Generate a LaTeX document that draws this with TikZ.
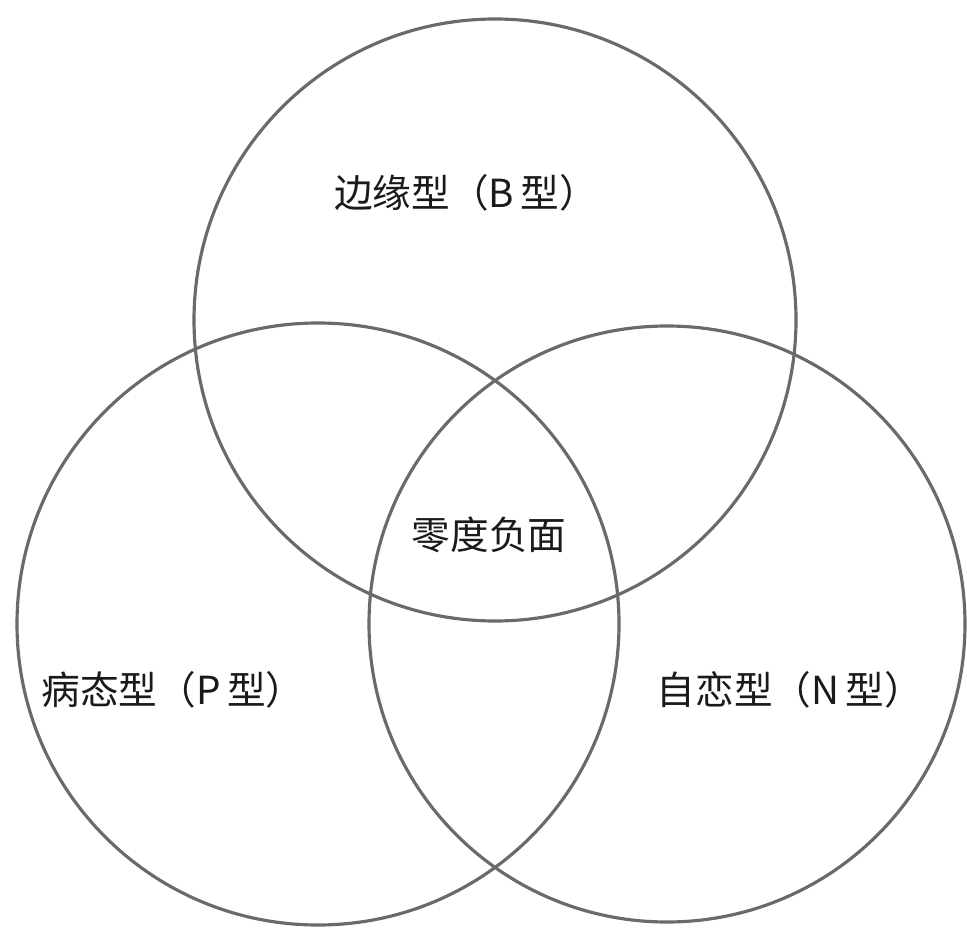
\documentclass[tikz,border=0pt]{standalone}
\usepackage{fontspec}
\newfontfamily\cjk{Noto Sans CJK SC}
\definecolor{ringgray}{HTML}{6A6A6A}
\definecolor{txtgray}{HTML}{1A1A1A}
\begin{document}
\begin{tikzpicture}[x=0.02cm,y=-0.02cm,
  ring/.style={draw=ringgray,line width=1.8pt},
  lbl/.style={inner sep=0pt,text=txtgray,font=\cjk\fontsize{22}{26}\selectfont}]
\useasboundingbox (0,0) rectangle (967,929);
\coordinate (cB) at (495,320);
\coordinate (cP) at (318,624);
\coordinate (cN) at (667,624);
\draw[ring] (cB) circle[radius=301];
\draw[ring] (cP) circle[radius=301];
\draw[ring] (cN) circle[radius=298];
\node[lbl] (tB) at (466,193) {边缘型（B\,型）};
\node[lbl] (tZ) at (489,535) {零度负面};
\node[lbl] (tP) at (173,690) {病态型（P\,型）};
\node[lbl] (tN) at (790,690) {自恋型（N\,型）};
\end{tikzpicture}
\end{document}
